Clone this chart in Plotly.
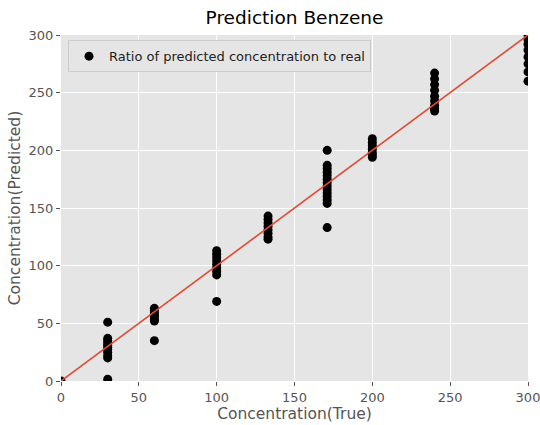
import plotly.graph_objects as go

# Data (true concentration -> predicted concentrations)
true_levels = [0, 30, 60, 100, 133, 171, 200, 240, 300]
pred_0 = [0]
pred_30 = [51, 37, 35, 33, 31, 29, 27, 25, 22, 20, 1.5]
pred_60 = [63, 61, 59, 57, 55, 53, 52, 35]
pred_100 = [113, 110, 107, 104, 101, 98, 95, 92, 69]
pred_133 = [143, 140, 137, 134, 131, 128, 125, 123]
pred_171 = [200, 187, 184, 181, 178, 175, 172, 169, 166, 163, 160, 157, 154, 133]
pred_200 = [210, 207, 204, 201, 198, 196, 194]
pred_240 = [267, 262, 257, 252, 247, 243, 239, 236, 234]
pred_300 = [300, 296, 292, 287, 281, 275, 268, 260]
groups = [pred_0, pred_30, pred_60, pred_100, pred_133, pred_171, pred_200, pred_240, pred_300]

ideal_x = [0, 300]
ideal_y = [0, 300]
ticks = [0, 50, 100, 150, 200, 250, 300]

xs, ys = [], []
for t, g in zip(true_levels, groups):
    xs += [t] * len(g)
    ys += g

FONT = "DejaVu Sans"
fig = go.Figure()
fig.add_trace(go.Scatter(x=xs, y=ys, mode="markers",
                         marker=dict(color="black", size=9),
                         name="Ratio of predicted concentration to real",
                         cliponaxis=True))
fig.add_trace(go.Scatter(x=ideal_x, y=ideal_y, mode="lines",
                         line=dict(color="#E24A33", width=1.6),
                         showlegend=False))

axis_common = dict(range=[0, 300], tickvals=ticks, showgrid=True, gridcolor="white",
                   gridwidth=1, zeroline=False, ticks="outside", ticklen=4,
                   tickcolor="#555555", tickfont=dict(family=FONT, size=13, color="#555555"),
                   showline=False, automargin=False, ticklabeloverflow="allow")
fig.update_xaxes(**axis_common,
                 title=dict(text="Concentration(True)", font=dict(family=FONT, size=15.5, color="#555555"),
                            standoff=4))
fig.update_yaxes(**axis_common,
                 title=dict(text="Concentration(Predicted)", font=dict(family=FONT, size=15.5, color="#555555"),
                            standoff=4))

fig.update_layout(
    width=540, height=425,
    margin=dict(l=61, r=12, t=35, b=44),
    plot_bgcolor="#E5E5E5", paper_bgcolor="white",
    title=dict(text="Prediction Benzene", x=(61 + 528) / 2 / 540, xanchor="center",
               y=1 - 18 / 425, yanchor="middle",
               font=dict(family=FONT, size=18.5, color="black")),
    legend=dict(x=0.015, y=0.985, xanchor="left", yanchor="top",
                bgcolor="#E5E5E5", bordercolor="#CCCCCC", borderwidth=1,
                font=dict(family=FONT, size=13, color="#222222")),
    font=dict(family=FONT),
)

fig.write_html("out.html")
